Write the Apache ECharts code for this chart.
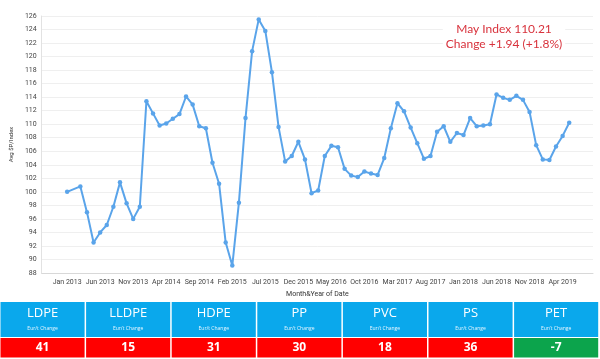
<!DOCTYPE html>
<html>
<head>
<meta charset="utf-8">
<script src="https://cdn.jsdelivr.net/npm/echarts@6/dist/echarts.min.js"></script>
<style>
html,body{margin:0;padding:0;background:#fff;}
#c{width:600px;height:359px;}
</style>
</head>
<body>
<div id="c"></div>
<script>
// Monthly index, Jan 2013 .. May 2019 (Feb 2013 missing)
var indexValues = [
  100.0, null, 100.8, 97.0, 92.5, 94.0, 95.1, 97.8, 101.4, 98.3, 96.0, 97.8,
  113.4, 111.6, 109.8, 110.1, 110.8, 111.5, 114.1, 112.9, 109.7, 109.4, 104.3, 101.2,
  92.5, 89.1, 98.4, 110.9, 120.8, 125.5, 123.8, 117.7, 109.6, 104.5, 105.3, 107.4,
  104.8, 99.8, 100.2, 105.3, 106.8, 106.6, 103.4, 102.4, 102.2, 103.0, 102.7, 102.5,
  105.0, 109.4, 113.1, 111.9, 109.5, 107.2, 104.9, 105.3, 108.9, 109.7, 107.4, 108.7,
  108.4, 110.9, 109.7, 109.8, 110.0, 114.4, 113.9, 113.6, 114.2, 113.6, 111.8, 106.9,
  104.8, 104.7, 106.7, 108.27, 110.21
];
var tickLabels = ['Jan 2013','Jun 2013','Nov 2013','Apr 2014','Sep 2014','Feb 2015','Jul 2015','Dec 2015',
  'May 2016','Oct 2016','Mar 2017','Aug 2017','Jan 2018','Jun 2018','Nov 2018','Apr 2019'];
var tickStep = 5;
var materials = ['LDPE','LLDPE','HDPE','PP','PVC','PS','PET'];
var changes = [41, 15, 31, 30, 18, 36, -7];
var annotLine1 = 'May Index 110.21';
var annotLine2 = 'Change +1.94 (+1.8%)';

var seriesData = [];
indexValues.forEach(function(v, i){ if (v !== null) seriesData.push([i, v]); });
var tickPos = tickLabels.map(function(_, k){ return k * tickStep; });

var graphics = [];
var colW = 85.6, x0 = 0.5, hdrTop = 302, hdrH = 35, valTop = 338, valH = 19.5;
materials.forEach(function(m, k){
  var x = x0 + k * colW;
  graphics.push({type:'rect', shape:{x:x, y:hdrTop, width:colW-1.5, height:hdrH}, style:{fill:'#0aa8ec'}, silent:true});
  graphics.push({type:'rect', shape:{x:x, y:valTop, width:colW-1.5, height:valH}, style:{fill: changes[k] < 0 ? '#0ca44c' : '#ff0000'}, silent:true});
  graphics.push({type:'text', style:{text:m, x:x+(colW-1.5)/2, y:hdrTop+11, align:'center', verticalAlign:'middle', fill:'#fff', font:'13px "Open Sans", sans-serif'}, silent:true});
  graphics.push({type:'text', style:{text:'Eur/t Change', x:x+(colW-1.5)/2, y:hdrTop+27, align:'center', verticalAlign:'middle', fill:'#e8f6ff', font:'5px "Open Sans", sans-serif'}, silent:true});
  graphics.push({type:'text', style:{text:String(changes[k]), x:x+(colW-1.5)/2, y:valTop+valH/2, align:'center', verticalAlign:'middle', fill:'#fff', font:'bold 12px "Open Sans", sans-serif'}, silent:true});
});
graphics.push({type:'text', z:100, style:{text:annotLine1 + '\n' + annotLine2, x:504, y:37, align:'center', verticalAlign:'middle', fill:'#d8323c', font:'12px Lato, sans-serif', lineHeight:15, backgroundColor:'#fff', padding:[2,3]}, silent:true});

var chart = echarts.init(document.getElementById('c'));
chart.setOption({
  animation:false,
  backgroundColor:'#fff',
  grid:{left:29, right:7, top:16, bottom:86},
  xAxis:{
    type:'value', min:-3.85, max:79.6,
    name:'Month&Year of Date', nameLocation:'middle', nameGap:18,
    nameTextStyle:{fontSize:7, color:'#333', fontFamily:'Roboto'},
    axisLine:{show:true, onZero:false, lineStyle:{color:'#d8d8d8'}},
    axisTick:{show:false},
    splitLine:{show:false},
    axisLabel:{customValues:tickPos, fontSize:7, color:'#444', margin:6, fontFamily:'Roboto',
      formatter:function(v){ var k = Math.round(v / tickStep); return tickLabels[k] || ''; }}
  },
  yAxis:{
    type:'value', min:88, max:126, interval:2,
    name:'Avg $P/Index', nameLocation:'middle', nameGap:19, nameRotate:90,
    nameTextStyle:{fontSize:6, color:'#333', fontFamily:'Roboto'},
    axisLine:{show:true, onZero:false, lineStyle:{color:'#e2e2e2'}},
    axisTick:{show:false},
    splitLine:{lineStyle:{color:'#efefef', width:1}},
    axisLabel:{fontSize:7, color:'#444', margin:5, fontFamily:'Roboto'}
  },
  series:[{
    type:'line', data:seriesData,
    lineStyle:{color:'#5aa4ea', width:2},
    itemStyle:{color:'#5aa4ea'},
    symbol:'circle', symbolSize:4.5, showSymbol:true
  }],
  graphic:graphics
});
</script>
</body>
</html>
